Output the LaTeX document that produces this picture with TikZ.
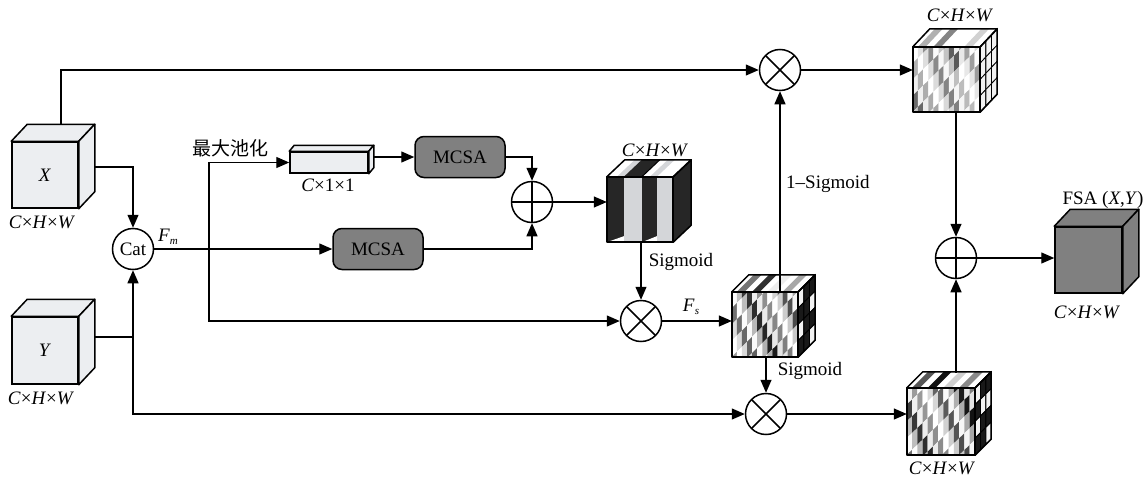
\documentclass[tikz,border=0pt]{standalone}
\usepackage{fontspec}
\setmainfont{Liberation Serif}
\newfontfamily\cjk{Noto Sans CJK SC}
\usetikzlibrary{arrows.meta,calc}
\definecolor{lgray}{RGB}{236,238,241}
\definecolor{sgray}{RGB}{212,214,217}
\definecolor{mgray}{RGB}{128,128,128}
\newcommand{\chw}{\textit{C}×\textit{H}×\textit{W}}
\newcommand{\plainsides}[4]{% name dx dy fill
  \filldraw[cubeline,fill=#4] (#1.north west) -- (#1.north east) -- ++(#2,-#3) -- ($(#1.north west)+(#2,-#3)$) -- cycle;
  \filldraw[cubeline,fill=#4] (#1.north east) -- (#1.south east) -- ++(#2,-#3) -- ($(#1.north east)+(#2,-#3)$) -- cycle;
}
\newcommand{\patcube}[8]{% name w h dx dy seed maxdark sidethreshold
  \pgfmathsetmacro\cw{#2/13}
  \pgfmathsetmacro\rh{#3/4}
  \begin{scope}
    \clip (#1.south west) rectangle (#1.north east);
    \fill[white] (#1.south west) rectangle (#1.north east);
    \foreach \i in {0,...,12}{
      \foreach \j in {-1,...,8}{
        \pgfmathsetmacro\r{abs(mod(\i*37+\j*61+#6+970,97))/96}
        \pgfmathtruncatemacro\g{#7*\r*\r}
        \fill[black!\g] ($(#1.north west)+(\i*\cw,\j*\rh-\i*5)$) -- ++(\cw,-5) -- ++(0,\rh) -- ++(-\cw,5) -- cycle;
      }
    }
  \end{scope}
  \fill[white] (#1.north west) -- (#1.north east) -- ++(#4,-#5) -- ($(#1.north west)+(#4,-#5)$) -- cycle;
  \foreach \i in {1,4,...,10}{
    \pgfmathtruncatemacro\g{abs(mod(\i*41+#6,97))*#7/96}
    \fill[black!\g] ($(#1.north west)+(\i*\cw,0)$) -- ++(1.5*\cw,0) -- ++(#4,-#5) -- ++(-1.5*\cw,0) -- cycle;
  }
  \foreach \a in {0,1,2}{
    \foreach \k in {0,...,3}{
      \pgfmathtruncatemacro\g{abs(mod(\a*29+\k*47+#6,97)) > #8 ? 90 : 5}
      \filldraw[black!\g,draw=black,line width=0.8pt] ($(#1.north east)+(\a*#4/3,-\a*#5/3+\k*\rh)$) -- ++(#4/3,-#5/3) -- ++(0,\rh) -- ++(-#4/3,#5/3) -- cycle;
    }
  }
  \draw[cubeline] (#1.south west) rectangle (#1.north east);
  \draw[cubeline] (#1.north west) -- (#1.north east) -- ++(#4,-#5) -- ($(#1.north west)+(#4,-#5)$) -- cycle;
  \draw[cubeline] (#1.north east) -- (#1.south east) -- ++(#4,-#5) -- ($(#1.north east)+(#4,-#5)$) -- cycle;
}
\begin{document}
\begin{tikzpicture}[x=1pt,y=-1pt,
  every node/.style={font=\fontsize{19}{22}\selectfont, inner sep=0pt},
  ln/.style={line width=1.3pt},
  arr/.style={ln,-{Triangle[length=13pt,width=11pt]}},
  cubeline/.style={line width=1.5pt,line join=round},
  face/.style={draw,line width=1.5pt,rectangle},
  front/.style={rectangle},
  mcsa/.style={draw,line width=1.5pt,rounded corners=9pt,fill=mgray,minimum width=90pt,minimum height=41pt},
  op/.style={circle,draw,line width=1.5pt,minimum size=41pt},
  mul/.style={op,path picture={\draw[line width=1.5pt] (path picture bounding box.north west) -- (path picture bounding box.south east) (path picture bounding box.north east) -- (path picture bounding box.south west);}},
  add/.style={op,path picture={\draw[line width=1.5pt] (path picture bounding box.north) -- (path picture bounding box.south) (path picture bounding box.east) -- (path picture bounding box.west);}},
  lab/.style={font=\fontsize{19}{22}\selectfont}
]
\useasboundingbox (0,0) rectangle (1148,479);
\fill[white] (0,0) rectangle (1148,479);

% input cubes
\node[face,fill=lgray,minimum width=66pt,minimum height=66pt] (X) at (45,175) {\textit{X}};
\plainsides{X}{16}{17}{lgray}
\node[face,fill=lgray,minimum width=66pt,minimum height=67pt] (Y) at (45,350.5) {\textit{Y}};
\plainsides{Y}{16}{17}{lgray}
\node[lab] at (42,222) {\chw};
\node[lab] at (41,398) {\chw};

\node[op] (cat) at (133,249) {Cat};

% pooling bar and MCSA
\node[face,fill=lgray,minimum width=78pt,minimum height=21pt] (bar) at (329,162.5) {};
\plainsides{bar}{5}{6}{lgray}
\node[lab] at (328,185) {\textit{C}×1×1};
\node[lab,anchor=west] at (192,148) {\cjk 最大池化};
\node[mcsa] (m1) at (460,157) {MCSA};
\node[mcsa] (m2) at (378,249) {MCSA};
\node[add] (a1) at (532,202) {};

% cube 1 (striped)
\node[front,minimum width=66pt,minimum height=65pt] (c1) at (640,209.5) {};
\fill[sgray] (c1.south west) rectangle (c1.north east);
\fill[black!85] (c1.north west) rectangle ($(c1.south west)+(17,0)$);
\fill[black!85] ($(c1.north west)+(35,0)$) rectangle ($(c1.south west)+(50,0)$);
\fill[white] (c1.north west) -- (c1.north east) -- ++(18,-17) -- ($(c1.north west)+(18,-17)$) -- cycle;
\fill[sgray] ($(c1.north west)+(10,0)$) -- ++(7,0) -- ++(18,-17) -- ++(-7,0) -- cycle;
\fill[black!85] ($(c1.north west)+(17,0)$) -- ++(18,0) -- ++(18,-17) -- ++(-18,0) -- cycle;
\fill[sgray] ($(c1.north west)+(43,0)$) -- ++(7,0) -- ++(18,-17) -- ++(-7,0) -- cycle;
\fill[black!85] (c1.north east) -- (c1.south east) -- ++(18,-17) -- ($(c1.north east)+(18,-17)$) -- cycle;
\fill[white] (c1.south west) -- ++(17,0) -- ++(0,-6) -- cycle;
\fill[white] ($(c1.south west)+(35,0)$) -- ++(15,0) -- ++(0,-6) -- cycle;
\draw[cubeline] (c1.south west) rectangle (c1.north east);
\draw[cubeline] (c1.north west) -- (c1.north east) -- ++(18,-17) -- ($(c1.north west)+(18,-17)$) -- cycle;
\draw[cubeline] (c1.north east) -- (c1.south east) -- ++(18,-17) -- ($(c1.north east)+(18,-17)$) -- cycle;
\draw[line width=1pt] ($(c1.north west)+(35,0)$) -- ++(18,-17);
\node[lab] at (655,150) {\chw};

% operators
\node[mul] (x1) at (780,70) {};
\node[mul] (x2) at (641,321) {};
\node[mul] (x3) at (766,414) {};
\node[add] (a2) at (956,258) {};

% patterned cubes
\node[front,minimum width=66pt,minimum height=65pt] (c2) at (765,324.5) {};
\patcube{c2}{66}{65}{17}{17}{11}{100}{35}
\node[front,minimum width=67pt,minimum height=65pt] (c4) at (946.5,79.5) {};
\patcube{c4}{67}{65}{17}{18}{5}{65}{100}
\node[front,minimum width=68pt,minimum height=67pt] (c3) at (941,421.5) {};
\patcube{c3}{68}{67}{16}{16}{23}{100}{35}
\node[lab] at (960,15) {\chw};
\node[lab] at (942,468) {\chw};

% output cube
\node[face,fill=mgray,minimum width=67pt,minimum height=66pt] (out) at (1088.5,260) {};
\plainsides{out}{16}{17}{mgray}
\node[lab] at (1103,200) {FSA (\textit{X},\textit{Y})};
\node[lab] at (1087,312) {\chw};

% connectors
\coordinate (xtop) at ($(X.north)+(16,-17)$);
\draw[arr] (xtop -| 61,0) |- (x1.west);
\coordinate (xside) at ($(X.east)+(16,-8)$);
\draw[arr] (xside) -| (cat.north);
\coordinate (yside) at ($(Y.east)+(16,-13.5)$);
\coordinate (yj) at (133,337);
\draw[arr] (yside) -| (cat.south);
\draw[arr] (yj) |- (x3.west);
\coordinate (br) at (209,249);
\draw[ln] (cat.east) -- (br);
\draw[arr] (br) |- (bar.west);
\draw[arr] (br) -- (m2.west);
\draw[arr] (br) |- (x2.west);
\node[anchor=west] at (158,237) {\textit{F}\raisebox{-3pt}{\fontsize{11}{11}\selectfont\textit{m}}};
\coordinate (barout) at ($(bar.east)+(5,-5.5)$);
\draw[arr] (barout) -- (barout -| m1.west);
\draw[arr] (m1.east) -| (a1.north);
\draw[arr] (m2.east) -| (a1.south);
\draw[arr] (a1.east) -- (a1.east -| c1.west);
\draw[arr] (c1.south -| x2) -- (x2.north);
\node[lab] at (681,262) {Sigmoid};
\draw[arr] (x2.east) -- (x2.east -| c2.west);
\node at (691,307) {\textit{F}\raisebox{-3pt}{\fontsize{11}{11}\selectfont\textit{s}}};
\draw[arr] (c2.north -| x1) -- (x1.south);
\node[lab,anchor=west] at (786,184) {1–Sigmoid};
\draw[arr] (c2.south -| x3) -- (x3.north);
\node[lab] at (810,371) {Sigmoid};
\draw[arr] (x1.east) -- (x1.east -| c4.west);
\draw[arr] (x3.east) -- (x3.east -| c3.west);
\draw[arr] (c4.south -| a2) -- (a2.north);
\coordinate (c3top) at ($(c3.north -| a2)+(0,-15)$);
\draw[arr] (c3top) -- (a2.south);
\draw[arr] (a2.east) -- (a2.east -| out.west);
\end{tikzpicture}
\end{document}
